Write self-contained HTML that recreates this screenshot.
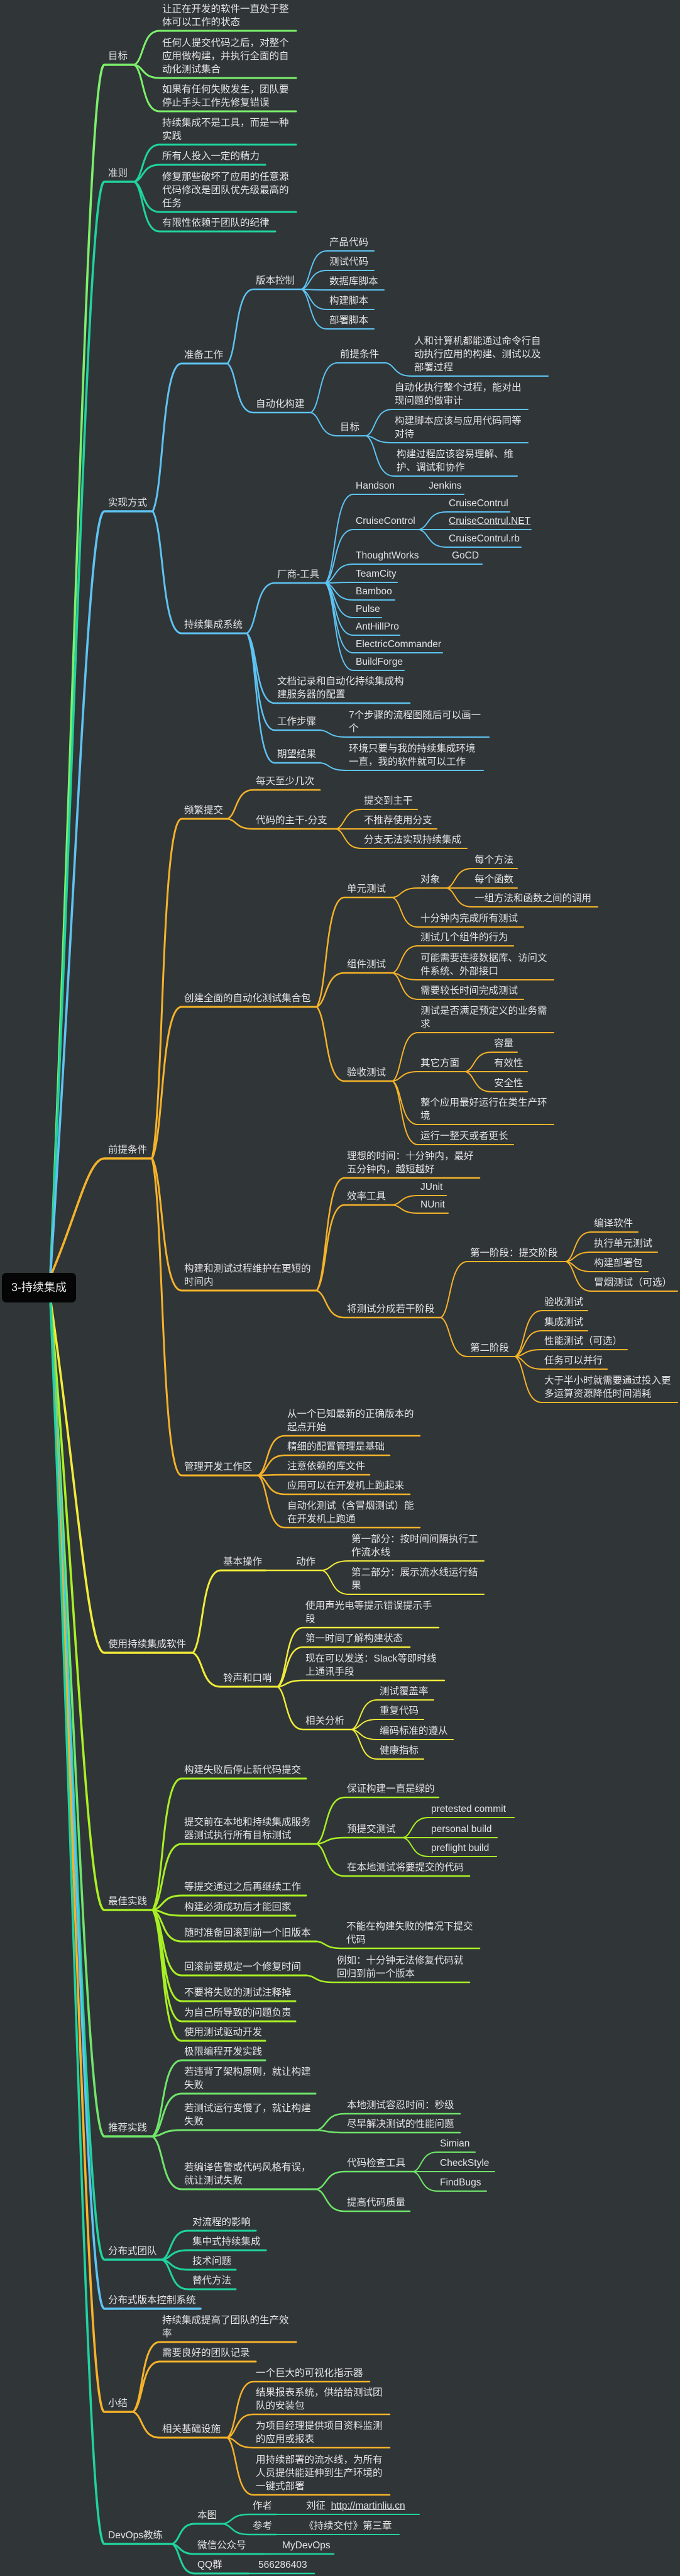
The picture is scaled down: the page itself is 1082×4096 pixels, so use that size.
<!DOCTYPE html>
<html><head><meta charset="utf-8">
<style>
html,body{margin:0;padding:0;background:#303537;}
#wrap{position:relative;width:1082px;height:4096px;overflow:hidden;background:#303537;}
svg{position:absolute;left:0;top:0;}
.t{position:absolute;white-space:nowrap;color:#e4e4e4;font-family:"Liberation Sans","Noto Sans CJK SC",sans-serif;font-size:15.5px;line-height:21px;}
.root{position:absolute;left:3px;top:2024px;width:118px;height:47px;background:#050505;border-radius:7px;color:#e8e8e8;font-family:"Liberation Sans","Noto Sans CJK SC",sans-serif;font-size:18px;line-height:47px;text-align:center;}
u{text-decoration:underline;}
</style></head><body>
<div id="wrap">
<svg id="s" width="1082" height="4096" xmlns="http://www.w3.org/2000/svg"></svg>
<div class="root">3-持续集成</div>
</div>
<script>
const C={g:'#7cf06c',t:'#1fd39f',b:'#5ec3f2',o:'#f5b32a',y:'#f1ec3a',yg:'#a8f024',lg:'#6fe56b'};
const N=[];
function n(p,t,x0,x1,y,tx){const d={p,t,x0,x1,y,tx};if(p>=0){d.c=N[p].c;d.d=N[p].d+1;}N.push(d);return N.length-1;}
function L(t,x0,x1,y,c){N.push({p:-1,t,x0,x1,y,c,d:1,tx:x0+6});return N.length-1;}
let a,b,c,d;
a=L('目标',166,214,103,C.g);
n(a,'让正在开发的软件一直处于整<br>体可以工作的状态',248,471,49);
n(a,'任何人提交代码之后，对整个<br>应用做构建，并执行全面的自<br>动化测试集合',248,471,124);
n(a,'如果有任何失败发生，团队要<br>停止手头工作先修复错误',248,471,177);
a=L('准则',166,214,289,C.t);
n(a,'持续集成不是工具，而是一种<br>实践',248,471,230);
n(a,'所有人投入一定的精力',248,422,262);
n(a,'修复那些破坏了应用的任意源<br>代码修改是团队优先级最高的<br>任务',248,471,337);
n(a,'有限性依赖于团队的纪律',248,438,368);
a=L('实现方式',166,243,813,C.b);
b=n(a,'准备工作',283,362,578);
c=n(b,'版本控制',397,480,460);
n(c,'产品代码',514,595,399);n(c,'测试代码',514,595,430);n(c,'数据库脚本',514,611,461);n(c,'构建脚本',514,595,492);n(c,'部署脚本',514,595,523);
c=n(b,'自动化构建',397,495,656);
d=n(c,'前提条件',531,614,577);
n(d,'人和计算机都能通过命令行自<br>动执行应用的构建、测试以及<br>部署过程',649,872,598);
d=n(c,'目标',531,583,693);
n(d,'自动化执行整个过程，能对出<br>现问题的做审计',618,840,651);
n(d,'构建脚本应该与应用代码同等<br>对待',618,840,704);
n(d,'构建过程应该容易理解、维<br>护、调试和协作',621,823,757);
b=n(a,'持续集成系统',283,393,1007);
c=n(b,'厂商-工具',431,518,927);
d=n(c,'Handson',556,631,786);n(d,'Jenkins',631,738,786,682);
d=n(c,'CruiseControl',556,667,842);
n(d,'CruiseContrul',704,811,814);n(d,'<u>CruiseContrul.NET</u>',704,845,842);n(d,'CruiseContrul.rb',704,829,870);
d=n(c,'ThoughtWorks',556,669,897);n(d,'GoCD',669,767,897,719);
n(c,'TeamCity',556,632,926);n(c,'Bamboo',556,628,954);n(c,'Pulse',556,607,982);n(c,'AntHillPro',556,636,1010);n(c,'ElectricCommander',556,704,1038);n(c,'BuildForge',556,643,1066);
n(b,'文档记录和自动化持续集成构<br>建服务器的配置',431,652,1118);
c=n(b,'工作步骤',431,510,1161);n(c,'7个步骤的流程图随后可以画一<br>个',545,778,1172);
c=n(b,'期望结果',431,510,1213);n(c,'环境只要与我的持续集成环境<br>一直，我的软件就可以工作',545,769,1225);
a=L('前提条件',166,242,1842,C.o);
b=n(a,'频繁提交',283,362,1302);
n(b,'每天至少几次',397,509,1256);
c=n(b,'代码的主干-分支',397,535,1318);
n(c,'提交到主干',569,664,1287);n(c,'不推荐使用分支',569,695,1318);n(c,'分支无法实现持续集成',569,743,1349);
b=n(a,'创建全面的自动化测试集合包',283,504,1601);
c=n(b,'单元测试',542,625,1427);
d=n(c,'对象',659,711,1412);
n(d,'每个方法',745,823,1381);n(d,'每个函数',745,823,1412);n(d,'一组方法和函数之间的调用',745,951,1442);
n(c,'十分钟内完成所有测试',659,833,1474);
c=n(b,'组件测试',542,625,1547);
n(c,'测试几个组件的行为',659,817,1504);n(c,'可能需要连接数据库、访问文<br>件系统、外部接口',659,881,1558);n(c,'需要较长时间完成测试',659,833,1589);
c=n(b,'验收测试',542,625,1719);
n(c,'测试是否满足预定义的业务需<br>求',659,881,1642);
d=n(c,'其它方面',659,741,1704);
n(d,'容量',776,823,1673);n(d,'有效性',776,839,1704);n(d,'安全性',776,839,1736);
n(c,'整个应用最好运行在类生产环<br>境',659,881,1788);n(c,'运行一整天或者更长',659,817,1820);
b=n(a,'构建和测试过程维护在更短的<br>时间内',283,504,2052);
n(b,'理想的时间：十分钟内，最好<br>五分钟内，越短越好',542,763,1873);
c=n(b,'效率工具',542,625,1916);n(c,'JUnit',659,710,1901);n(c,'NUnit',659,713,1929);
c=n(b,'将测试分成若干阶段',542,702,2095);
d=n(c,'第一阶段：提交阶段',738,901,2006);
n(d,'编译软件',935,1015,1959);n(d,'执行单元测试',935,1046,1991);n(d,'构建部署包',935,1031,2022);n(d,'冒烟测试（可选）',935,1078,2053);
d=n(c,'第二阶段',738,820,2157);
n(d,'验收测试',856,935,2084);n(d,'集成测试',856,935,2116);n(d,'性能测试（可选）',856,998,2146);n(d,'任务可以并行',856,966,2177);n(d,'大于半小时就需要通过投入更<br>多运算资源降低时间消耗',856,1078,2230);
b=n(a,'管理开发工作区',283,411,2346);
n(b,'从一个已知最新的正确版本的<br>起点开始',447,668,2283);n(b,'精细的配置管理是基础',447,620,2314);n(b,'注意依赖的库文件',447,588,2345);n(b,'应用可以在开发机上跑起来',447,652,2376);n(b,'自动化测试（含冒烟测试）能<br>在开发机上跑通',447,668,2429);
a=L('使用持续集成软件',166,307,2628,C.y);
b=n(a,'基本操作',345,422,2497);c=n(b,'动作',422,513,2497,471);
n(c,'第一部分：按时间间隔执行工<br>作流水线',549,770,2482);n(c,'第二部分：展示流水线运行结<br>果',549,770,2535);
b=n(a,'铃声和口哨',345,442,2682);
n(b,'使用声光电等提示错误提示手<br>段',476,698,2588);n(b,'第一时间了解构建状态',476,652,2619);n(b,'现在可以发送：Slack等即时线<br>上通讯手段',476,707,2672);
c=n(b,'相关分析',476,560,2750);
n(c,'测试覆盖率',594,690,2703);n(c,'重复代码',594,674,2734);n(c,'编码标准的遵从',594,721,2766);n(c,'健康指标',594,674,2797);
a=L('最佳实践',166,243,3037,C.yg);
n(a,'构建失败后停止新代码提交',283,487,2828);
b=n(a,'提交前在本地和持续集成服务<br>器测试执行所有目标测试',283,504,2932);
n(b,'保证构建一直是绿的',542,698,2858);
c=n(b,'预提交测试',542,642,2922);n(c,'pretested commit',676,818,2890);n(c,'personal build',676,791,2922);n(c,'preflight build',676,790,2952);
n(b,'在本地测试将要提交的代码',542,747,2983);
n(a,'等提交通过之后再继续工作',283,487,3014);
n(a,'构建必须成功后才能回家',283,470,3046);
b=n(a,'随时准备回滚到前一个旧版本',283,504,3087);n(b,'不能在构建失败的情况下提交<br>代码',538,763,3098,551);
b=n(a,'回滚前要规定一个修复时间',283,488,3141);n(b,'例如：十分钟无法修复代码就<br>回归到前一个版本',524,747,3152,536);
n(a,'不要将失败的测试注释掉',283,470,3182);n(a,'为自己所导致的问题负责',283,470,3214);n(a,'使用测试驱动开发',283,422,3245);
a=L('推荐实践',166,243,3397,C.lg);
n(a,'极限编程开发实践',283,422,3276);
n(a,'若违背了架构原则，就让构建<br>失败',283,502,3329);
b=n(a,'若测试运行变慢了，就让构建<br>失败',283,504,3387);
n(b,'本地测试容忍时间：秒级',542,732,3361);n(b,'尽早解决测试的性能问题',542,732,3391);
b=n(a,'若编译告警或代码风格有误，<br>就让测试失败',283,504,3481);
c=n(b,'代码检查工具',542,658,3453);n(c,'Simian',690,756,3422);n(c,'CheckStyle',690,787,3453);n(c,'FindBugs',690,774,3484);
n(b,'提高代码质量',542,652,3516);
a=L('分布式团队',166,258,3593,C.t);
n(a,'对流程的影响',293,407,3547,306);n(a,'集中式持续集成',293,423,3578,306);n(a,'技术问题',293,375,3609,306);n(a,'替代方法',293,375,3640,306);
a=L('分布式版本控制系统',166,319,3671,C.b);
a=L('小结',166,212,3835,C.o);
n(a,'持续集成提高了团队的生产效<br>率',248,471,3724);n(a,'需要良好的团队记录',248,407,3755);
b=n(a,'相关基础设施',248,362,3876);
n(b,'一个巨大的可视化指示器',397,588,3787);n(b,'结果报表系统，供给给测试团<br>队的安装包',397,620,3839);n(b,'为项目经理提供项目资料监测<br>的应用或报表',397,620,3892);n(b,'用持续部署的流水线，为所有<br>人员提供能延伸到生产环境的<br>一键式部署',397,620,3967);
a=L('DevOps教练',166,274,4045,C.t);
b=n(a,'本图',304,355,4013,314);
c=n(b,'作者',390,440,3998,402);n(c,'刘征&nbsp;&nbsp;<u>http://martinliu.cn</u>',440,667,3998,487);
c=n(b,'参考',390,440,4030,402);n(c,'《持续交付》第三章',440,635,4030,484);
b=n(a,'微信公众号',304,420,4061,314);n(b,'MyDevOps',420,531,4061,449);
b=n(a,'QQ群',304,395,4092,314);n(b,'566286403',395,500,4092,411);

const svg=document.getElementById('s'),wrap=document.getElementById('wrap');
const NS='http://www.w3.org/2000/svg';
function P(dd,col,w){const p=document.createElementNS(NS,'path');p.setAttribute('d',dd);p.setAttribute('fill','none');p.setAttribute('stroke',col);p.setAttribute('stroke-width',w);p.setAttribute('stroke-linecap','round');svg.appendChild(p);}
const W=[0,3.6,3,2.5,2,2,2];
N.forEach(o=>{
  const w=W[Math.min(o.d,6)];
  let dd;
  if(o.p<0){
    const x0=80,y0=o.y<2047?2030:2064,x3=o.x0,dx=x3-x0;
    dd=`M${x0} ${y0} C${x0+dx*0.5} ${y0+(o.y-y0)*0.53} ${x3-dx*0.3} ${o.y} ${x3} ${o.y}`;
  }else{
    const pa=N[o.p],px=pa.x1,py=pa.y,dx=o.x0-px;
    if(Math.abs(py-o.y)<1) dd=`M${px} ${py} L${o.x0} ${o.y}`;
    else dd=`M${px} ${py} C${px+dx*0.45} ${py+(o.y-py)*0.15} ${px+dx*0.35} ${o.y} ${o.x0+6} ${o.y}`;
  }
  dd+=` L${o.x1} ${o.y}`;
  P(dd,o.c,w);
  const t=document.createElement('div');t.className='t';
  t.style.left=(o.tx!==undefined?o.tx:o.x0+10)+'px';
  t.style.bottom=(4096-o.y+3)+'px';
  t.innerHTML=o.t;wrap.appendChild(t);
});
</script>
</body></html>
